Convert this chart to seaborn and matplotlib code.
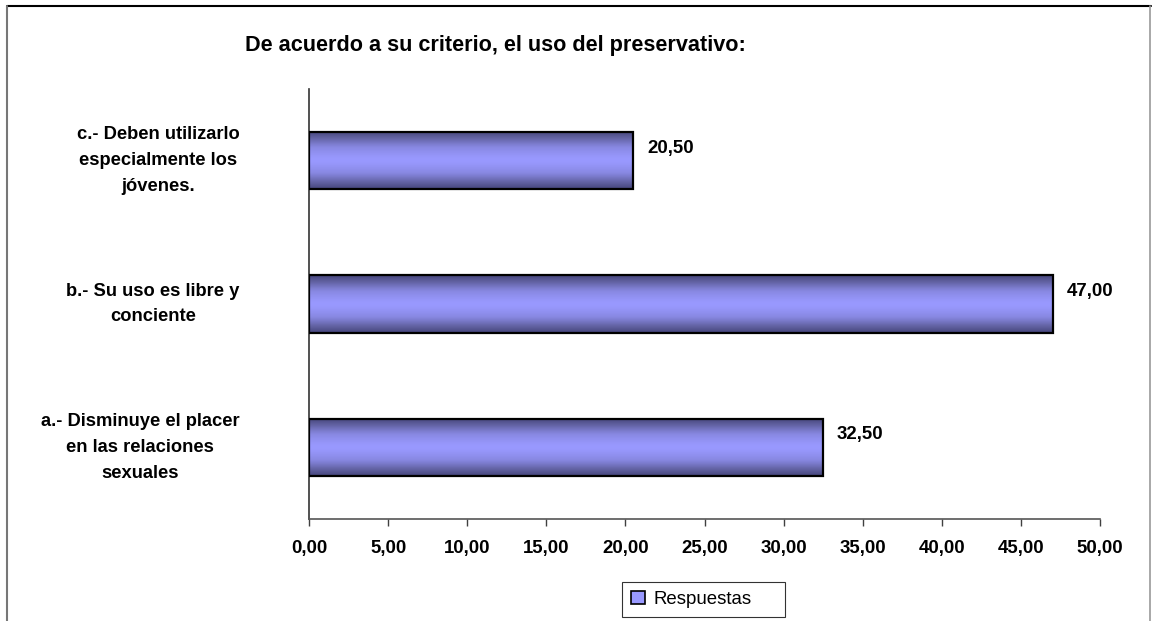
import numpy as np
import pandas as pd
import matplotlib
matplotlib.use("Agg")
import matplotlib.pyplot as plt
from matplotlib.colors import LinearSegmentedColormap
from matplotlib.lines import Line2D
from matplotlib.patches import Patch
import seaborn as sns

# ---- data ----
categories = [
    "c.- Deben utilizarlo\nespecialmente los\njóvenes.",
    "b.- Su uso es libre y\nconciente",
    "a.- Disminuye el placer\nen las relaciones\nsexuales",
]
values = [20.50, 47.00, 32.50]
series_name = "Respuestas"
title = "De acuerdo a su criterio, el uso del preservativo:"
xticks = [0, 5, 10, 15, 20, 25, 30, 35, 40, 45, 50]

df = pd.DataFrame({"cat": categories, "val": values})

sns.set_theme(style="white")
plt.rcParams["font.family"] = ["Liberation Sans", "DejaVu Sans"]
plt.rcParams["text.color"] = "black"
plt.rcParams["xtick.color"] = "black"
plt.rcParams["ytick.color"] = "black"

W, H = 1152, 621
fig = plt.figure(figsize=(W / 100, H / 100), dpi=100)
fig.patch.set_facecolor("white")
ax = fig.add_axes([309 / W, 1 - 519 / H, 791 / W, 430 / H])

sns.barplot(data=df, x="val", y="cat", order=categories, orient="h",
            width=0.4, color="#9999ff", ax=ax)

ax.set_xlim(0, 50)
ax.set_ylim(2.5, -0.5)

# gradient fill clipped to each bar
cmap = LinearSegmentedColormap.from_list(
    "g", ["#45457a", "#6464a6", "#8787e0", "#9999ff"])
t = np.linspace(0, 1, 200)
prof = 1 - np.abs(2 * t - 1) ** 1.4
grad = prof.reshape(-1, 1)
for p in list(ax.patches):
    x0, y0 = p.get_x(), p.get_y()
    w, h = p.get_width(), p.get_height()
    im = ax.imshow(grad, cmap=cmap, aspect="auto", vmin=0, vmax=1,
                   extent=[x0, x0 + w, y0 + h, y0], zorder=2,
                   interpolation="bilinear")
    im.set_clip_path(p)
    p.set_facecolor("none")
    p.set_edgecolor("black")
    p.set_linewidth(1.6)
    p.set_zorder(3)
ax.set_xlim(0, 50)
ax.set_ylim(2.5, -0.5)

FS = 13.2

# value labels
for i, v in enumerate(values):
    ax.annotate(f"{v:.2f}".replace(".", ","), xy=(v, i), xytext=(10, 9),
                textcoords="offset points", ha="left", va="center",
                fontsize=FS + 0.2, fontweight="bold", color="black")

ax.set_xticks(xticks)
ax.set_xticklabels([f"{x:.2f}".replace(".", ",") for x in xticks],
                   fontsize=FS + 0.2, fontweight="bold", color="black")
ax.set_yticks(range(len(categories)))
ax.set_yticklabels(categories, fontsize=FS, fontweight="bold", color="black",
                   multialignment="center", linespacing=1.68, va="center")
ax.tick_params(axis="x", direction="out", length=5, width=1, color="#404040",
               pad=10, bottom=True)
ax.tick_params(axis="y", length=0, pad=50)
ax.set_xlabel("")
ax.set_ylabel("")

for s in ["top", "right"]:
    ax.spines[s].set_visible(False)
ax.spines["left"].set_color("#333333")
ax.spines["left"].set_linewidth(1.2)
ax.spines["bottom"].set_color("#555555")
ax.spines["bottom"].set_linewidth(1.2)
ax.grid(False)

fig.text(495 / W, 1 - 45 / H, title, ha="center", va="center",
         fontsize=15.6, fontweight="bold", color="black")

# legend
handle = Patch(facecolor="#9999ff", edgecolor="black", linewidth=1.2)
leg = fig.legend([handle], [series_name], loc="center",
                 bbox_to_anchor=(622 / W, 1 - 617 / H, 163 / W, 35 / H),
                 mode="expand", frameon=True,
                 fancybox=False, edgecolor="black", fontsize=13.4,
                 handlelength=0.75, handleheight=0.65, handletextpad=0.45,
                 borderpad=0.5, borderaxespad=0)
leg.get_frame().set_linewidth(0.8)
for tx in leg.get_texts():
    tx.set_color("black")

# outer border
def fl(x0, y0, x1, y1, color, lw):
    fig.add_artist(Line2D([x0 / W, x1 / W], [1 - y0 / H, 1 - y1 / H],
                          color=color, lw=lw, transform=fig.transFigure))

fl(7, 6, 1151, 6, "black", 1.5)
fl(7, 6, 7, 621, "#777777", 1.5)
fl(1150, 6, 1150, 621, "#999999", 1.2)

fig.savefig("out.png", dpi=100)
